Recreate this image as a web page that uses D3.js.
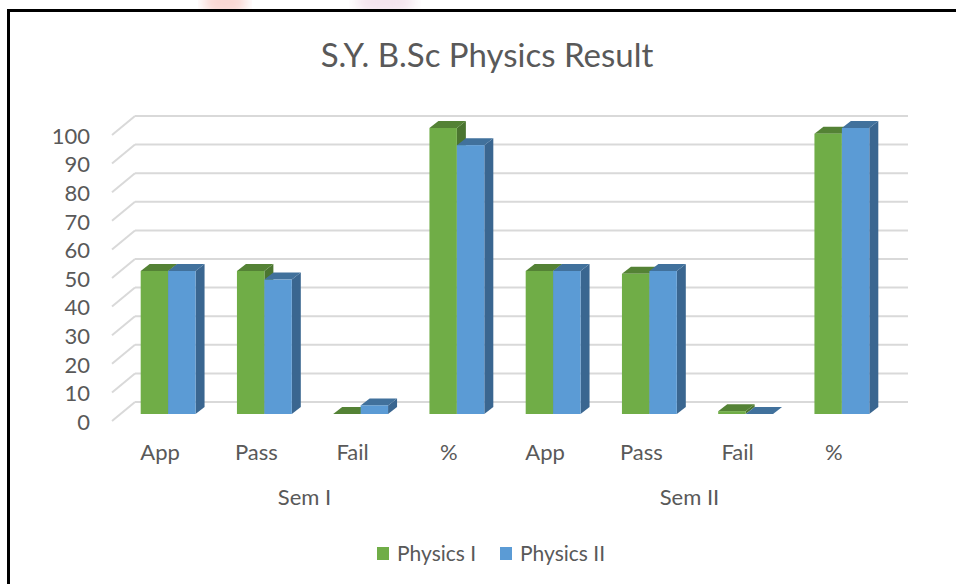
<!DOCTYPE html>
<html>
<head>
<meta charset="utf-8">
<script src="https://cdn.jsdelivr.net/npm/d3@7"></script>
<style>
  html, body { margin: 0; padding: 0; background: #fff; }
  svg { display: block; font-family: Lato, "Open Sans", sans-serif; }
</style>
</head>
<body>
<svg id="chart" width="956" height="584"></svg>
<script>
/** data **/
var sems = ["Sem I", "Sem II"];
var measures = ["App", "Pass", "Fail", "%"];
var seriesNames = ["Physics I", "Physics II"];
var physics1 = [50, 50, 0, 100, 50, 49, 1, 98];
var physics2 = [50, 47, 3, 94, 50, 50, 0, 100];
var yTicks = [0, 10, 20, 30, 40, 50, 60, 70, 80, 90, 100];

/** colours **/
var front = ["#70ad47", "#5b9bd5"];
var top_ = ["#548235", "#41719c"];
var side = ["#4b7530", "#3a6690"];
var textCol = "#595959";

var svg = d3.select("#chart");

// faint watermark bits above the frame
var defs = svg.append("defs");
defs.append("filter").attr("id", "blur").append("feGaussianBlur").attr("stdDeviation", 6);
svg.append("ellipse").attr("cx", 225).attr("cy", 2).attr("rx", 22).attr("ry", 14)
  .attr("fill", "#f4b0a8").attr("opacity", 0.5).attr("filter", "url(#blur)");
svg.append("ellipse").attr("cx", 385).attr("cy", 2).attr("rx", 30).attr("ry", 12)
  .attr("fill", "#e8c8dc").attr("opacity", 0.5).attr("filter", "url(#blur)");

// frame: top and left only, the rest is cut off
svg.append("rect").attr("x", 8.5).attr("y", 10.5).attr("width", 960).attr("height", 600)
  .attr("fill", "#fff").attr("stroke", "#000").attr("stroke-width", 3);

// 3d offsets
var wallDx = 23, wallDy = -19;
var barDx = 9, barDy = -7;

var yWall = d3.scaleLinear().domain([0, 100]).range([402, 116]);
var yFront = d3.scaleLinear().domain([0, 100]).range([414, 128]);

var labels = [];
sems.forEach(function(s) { measures.forEach(function(m) { labels.push(m); }); });
var idx = d3.range(labels.length);

var x0 = d3.scaleBand().domain(idx).range([120, 890]).paddingInner(0.43).paddingOuter(0.215);
var x1 = d3.scaleBand().domain([0, 1]).range([0, x0.bandwidth()]);

// gridlines on the back wall + diagonal on the side
var grid = svg.append("g");
yTicks.forEach(function(v) {
  grid.append("line")
    .attr("x1", 112).attr("y1", yWall(v) - wallDy)
    .attr("x2", 112 + wallDx).attr("y2", yWall(v))
    .attr("stroke", "#d9d9d9").attr("stroke-width", 2);
  grid.append("line")
    .attr("x1", 112 + wallDx).attr("y1", yWall(v))
    .attr("x2", 908).attr("y2", yWall(v))
    .attr("stroke", "#d9d9d9").attr("stroke-width", 2);
});

// y tick labels
svg.append("g").selectAll("text").data(yTicks).enter().append("text")
  .attr("x", 90).attr("y", function(d) { return yWall(d) - wallDy + 1; })
  .attr("dy", "0.35em").attr("text-anchor", "end")
  .attr("fill", textCol).attr("font-size", 22)
  .text(function(d) { return d; });

// bars
var series = [physics1, physics2];
var bars = svg.append("g");
idx.forEach(function(i) {
  series.forEach(function(vals, s) {
    var v = vals[i];
    var x = x0(i) + x1(s), w = x1.bandwidth();
    var yt = yFront(v), yb = yFront(0);
    var g = bars.append("g");
    // side
    g.append("path")
      .attr("d", "M" + (x + w) + "," + yt + "L" + (x + w + barDx) + "," + (yt + barDy) +
        "L" + (x + w + barDx) + "," + (yb + barDy) + "L" + (x + w) + "," + yb + "Z")
      .attr("fill", side[s]);
    // top
    g.append("path")
      .attr("d", "M" + x + "," + yt + "L" + (x + barDx) + "," + (yt + barDy) +
        "L" + (x + w + barDx) + "," + (yt + barDy) + "L" + (x + w) + "," + yt + "Z")
      .attr("fill", top_[s]);
    // front
    g.append("rect")
      .attr("x", x).attr("y", yt).attr("width", w).attr("height", yb - yt)
      .attr("fill", front[s]);
  });
});

// category labels
svg.append("g").selectAll("text").data(idx).enter().append("text")
  .attr("x", function(i) { return x0(i) + x0.bandwidth() / 2 - 8; })
  .attr("y", 452).attr("dy", "0.35em").attr("text-anchor", "middle")
  .attr("fill", textCol).attr("font-size", 22)
  .text(function(i) { return labels[i]; });

// semester labels
svg.append("g").selectAll("text").data(sems).enter().append("text")
  .attr("x", function(d, k) {
    var a = x0(k * 4), b = x0(k * 4 + 3) + x0.bandwidth();
    return (a + b) / 2 - 8;
  })
  .attr("y", 497).attr("dy", "0.35em").attr("text-anchor", "middle")
  .attr("fill", textCol).attr("font-size", 22)
  .text(function(d) { return d; });

// title
svg.append("text").attr("x", 487).attr("y", 55).attr("dy", "0.35em")
  .attr("text-anchor", "middle").attr("fill", textCol).attr("font-size", 33)
  .text("S.Y. B.Sc Physics Result");

// legend
var legX = [377, 500];
var leg = svg.append("g").selectAll("g").data(seriesNames).enter().append("g")
  .attr("transform", function(d, i) { return "translate(" + legX[i] + ",547)"; });
leg.append("rect").attr("width", 12).attr("height", 13)
  .attr("fill", function(d, i) { return front[i]; });
leg.append("text").attr("x", 20).attr("y", 7).attr("dy", "0.35em")
  .attr("fill", textCol).attr("font-size", 21)
  .text(function(d) { return d; });
</script>
</body>
</html>
